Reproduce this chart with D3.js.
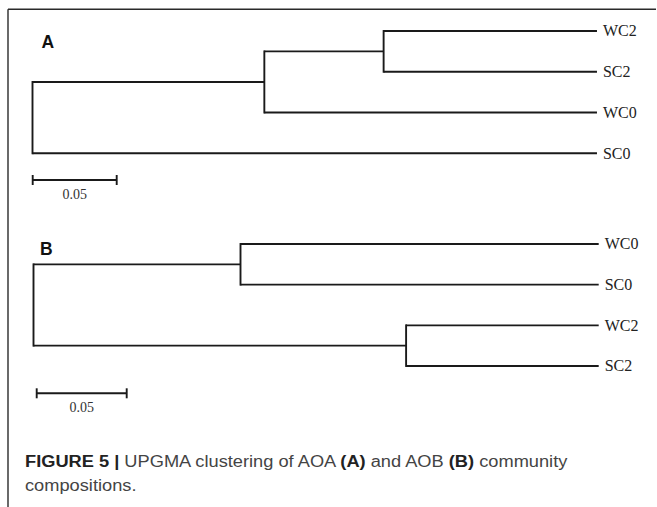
<!DOCTYPE html>
<html>
<head>
<meta charset="utf-8">
<script src="https://cdn.jsdelivr.net/npm/d3@7"></script>
<style>
  html, body { margin: 0; padding: 0; background: #fff; }
  svg { display: block; }
</style>
</head>
<body>
<script>
// ---- Panel A: AOA community, UPGMA tree ----
const tipsA = ["WC2", "SC2", "WC0", "SC0"];          // top-to-bottom leaf order
const nodesA = ["a1", "a2", "rootA"];                 // internal nodes, innermost first
const childrenA = [["WC2", "SC2"], ["a1", "WC0"], ["a2", "SC0"]];
const heightsA = [0.127, 0.198, 0.336];               // merge heights (distance)

// ---- Panel B: AOB community, UPGMA tree ----
const tipsB = ["WC0", "SC0", "WC2", "SC2"];
const nodesB = ["b1", "b2", "rootB"];
const childrenB = [["WC0", "SC0"], ["WC2", "SC2"], ["b1", "b2"]];
const heightsB = [0.199, 0.107, 0.314];

const scaleBarValue = 0.05;
const panelLabels = ["A", "B"];
const captionBold = "FIGURE 5 | ";
const captionParts = [
  { t: "UPGMA clustering of AOA ", b: false },
  { t: "(A)", b: true },
  { t: " and AOB ", b: false },
  { t: "(B)", b: true },
  { t: " community", b: false }
];
const captionLine2 = "compositions.";

const W = 657, H = 507;
const svg = d3.select("body").append("svg").attr("width", W).attr("height", H);

// frame: top rule and left rule
svg.append("line").attr("x1", 8).attr("x2", 656).attr("y1", 9.3).attr("y2", 9.3)
  .attr("stroke", "#2a2a2a").attr("stroke-width", 1.4);
svg.append("line").attr("x1", 8).attr("x2", 8).attr("y1", 9.3).attr("y2", H)
  .attr("stroke", "#2a2a2a").attr("stroke-width", 1.4);

function drawTree(cfg) {
  const g = svg.append("g");
  // build node table
  const nodes = new Map();
  cfg.tips.forEach(t => nodes.set(t, { name: t, height: 0, children: null }));
  cfg.nodes.forEach((n, i) => nodes.set(n, {
    name: n, height: cfg.heights[i], children: cfg.children[i].map(c => nodes.get(c))
  }));
  const root = d3.hierarchy(nodes.get(cfg.nodes[cfg.nodes.length - 1]), d => d.children);

  const rootH = root.data.height;
  const x = d3.scaleLinear().domain([rootH, 0]).range([cfg.x0, cfg.x0 + rootH * cfg.pxPerUnit]);
  const y = d3.scalePoint().domain(cfg.tips).range(cfg.yRange);

  // positions: leaves from the point scale, internal nodes at the mean of children
  root.eachAfter(n => {
    n.px = x(n.data.height);
    n.py = n.children ? d3.mean(n.children, c => c.py) : y(n.data.name);
  });

  const stroke = "#1a1a1a", sw = 1.9;
  root.each(n => {
    if (!n.children) return;
    const ys = n.children.map(c => c.py);
    g.append("line").attr("x1", n.px).attr("x2", n.px)
      .attr("y1", d3.min(ys)).attr("y2", d3.max(ys))
      .attr("stroke", stroke).attr("stroke-width", sw).attr("stroke-linecap", "square");
    n.children.forEach(c => {
      g.append("line").attr("x1", n.px).attr("x2", c.px)
        .attr("y1", c.py).attr("y2", c.py)
        .attr("stroke", stroke).attr("stroke-width", sw);
    });
  });

  // leaf labels
  root.leaves().forEach(l => {
    g.append("text").attr("x", l.px + 6).attr("y", l.py + 5.3)
      .attr("font-family", "'Liberation Serif', 'Times New Roman', serif")
      .attr("font-size", 16).attr("fill", "#222")
      .text(l.data.name);
  });

  // panel letter
  g.append("text").attr("x", cfg.labelPos[0]).attr("y", cfg.labelPos[1])
    .attr("font-family", "'Liberation Sans', Arial, sans-serif")
    .attr("font-weight", "bold").attr("font-size", 17.5).attr("fill", "#111")
    .text(cfg.label);

  // scale bar
  const sx0 = cfg.bar[0], sy = cfg.bar[1];
  const sx1 = sx0 + x(0) - x(scaleBarValue);
  const bar = g.append("g").attr("stroke", stroke).attr("stroke-width", 1.9);
  bar.append("line").attr("x1", sx0).attr("x2", sx1).attr("y1", sy).attr("y2", sy);
  bar.append("line").attr("x1", sx0).attr("x2", sx0).attr("y1", sy - 5).attr("y2", sy + 5);
  bar.append("line").attr("x1", sx1).attr("x2", sx1).attr("y1", sy - 5).attr("y2", sy + 5);
  g.append("text").attr("x", (sx0 + sx1) / 2).attr("y", sy + 18.5)
    .attr("text-anchor", "middle")
    .attr("font-family", "'Liberation Serif', 'Times New Roman', serif")
    .attr("font-size", 14).attr("fill", "#333")
    .text(scaleBarValue.toFixed(2));
}

drawTree({
  tips: tipsA, nodes: nodesA, children: childrenA, heights: heightsA,
  x0: 32.5, pxPerUnit: 1680, yRange: [31, 153.3],
  label: panelLabels[0], labelPos: [41.5, 47.7], bar: [32.7, 180]
});
drawTree({
  tips: tipsB, nodes: nodesB, children: childrenB, heights: heightsB,
  x0: 33.5, pxPerUnit: 1800, yRange: [244, 366],
  label: panelLabels[1], labelPos: [40, 255], bar: [36.7, 393.3]
});

// caption
const cap = svg.append("g").attr("transform", "translate(25,0)");
const sans = "'Liberation Sans', Arial, Helvetica, sans-serif";
const t1 = cap.append("text").attr("x", 0).attr("y", 466.8)
  .attr("font-family", sans).attr("font-size", 16.2).attr("fill", "#444");
t1.append("tspan").attr("font-weight", "bold").attr("fill", "#222").text(captionBold);
captionParts.forEach(p => {
  t1.append("tspan").attr("font-weight", p.b ? "bold" : "normal")
    .attr("fill", p.b ? "#222" : "#444").text(p.t);
});
const t2 = cap.append("text").attr("x", 0).attr("y", 491.5)
  .attr("font-family", sans).attr("font-size", 16.2).attr("fill", "#444")
  .text(captionLine2);
// condense to the set measure of the caption column
const natural = t1.node().getComputedTextLength();
const k = 542 / natural;
t1.attr("transform", `scale(${k},1)`);
t2.attr("transform", `scale(${k},1)`);
</script>
</body>
</html>
